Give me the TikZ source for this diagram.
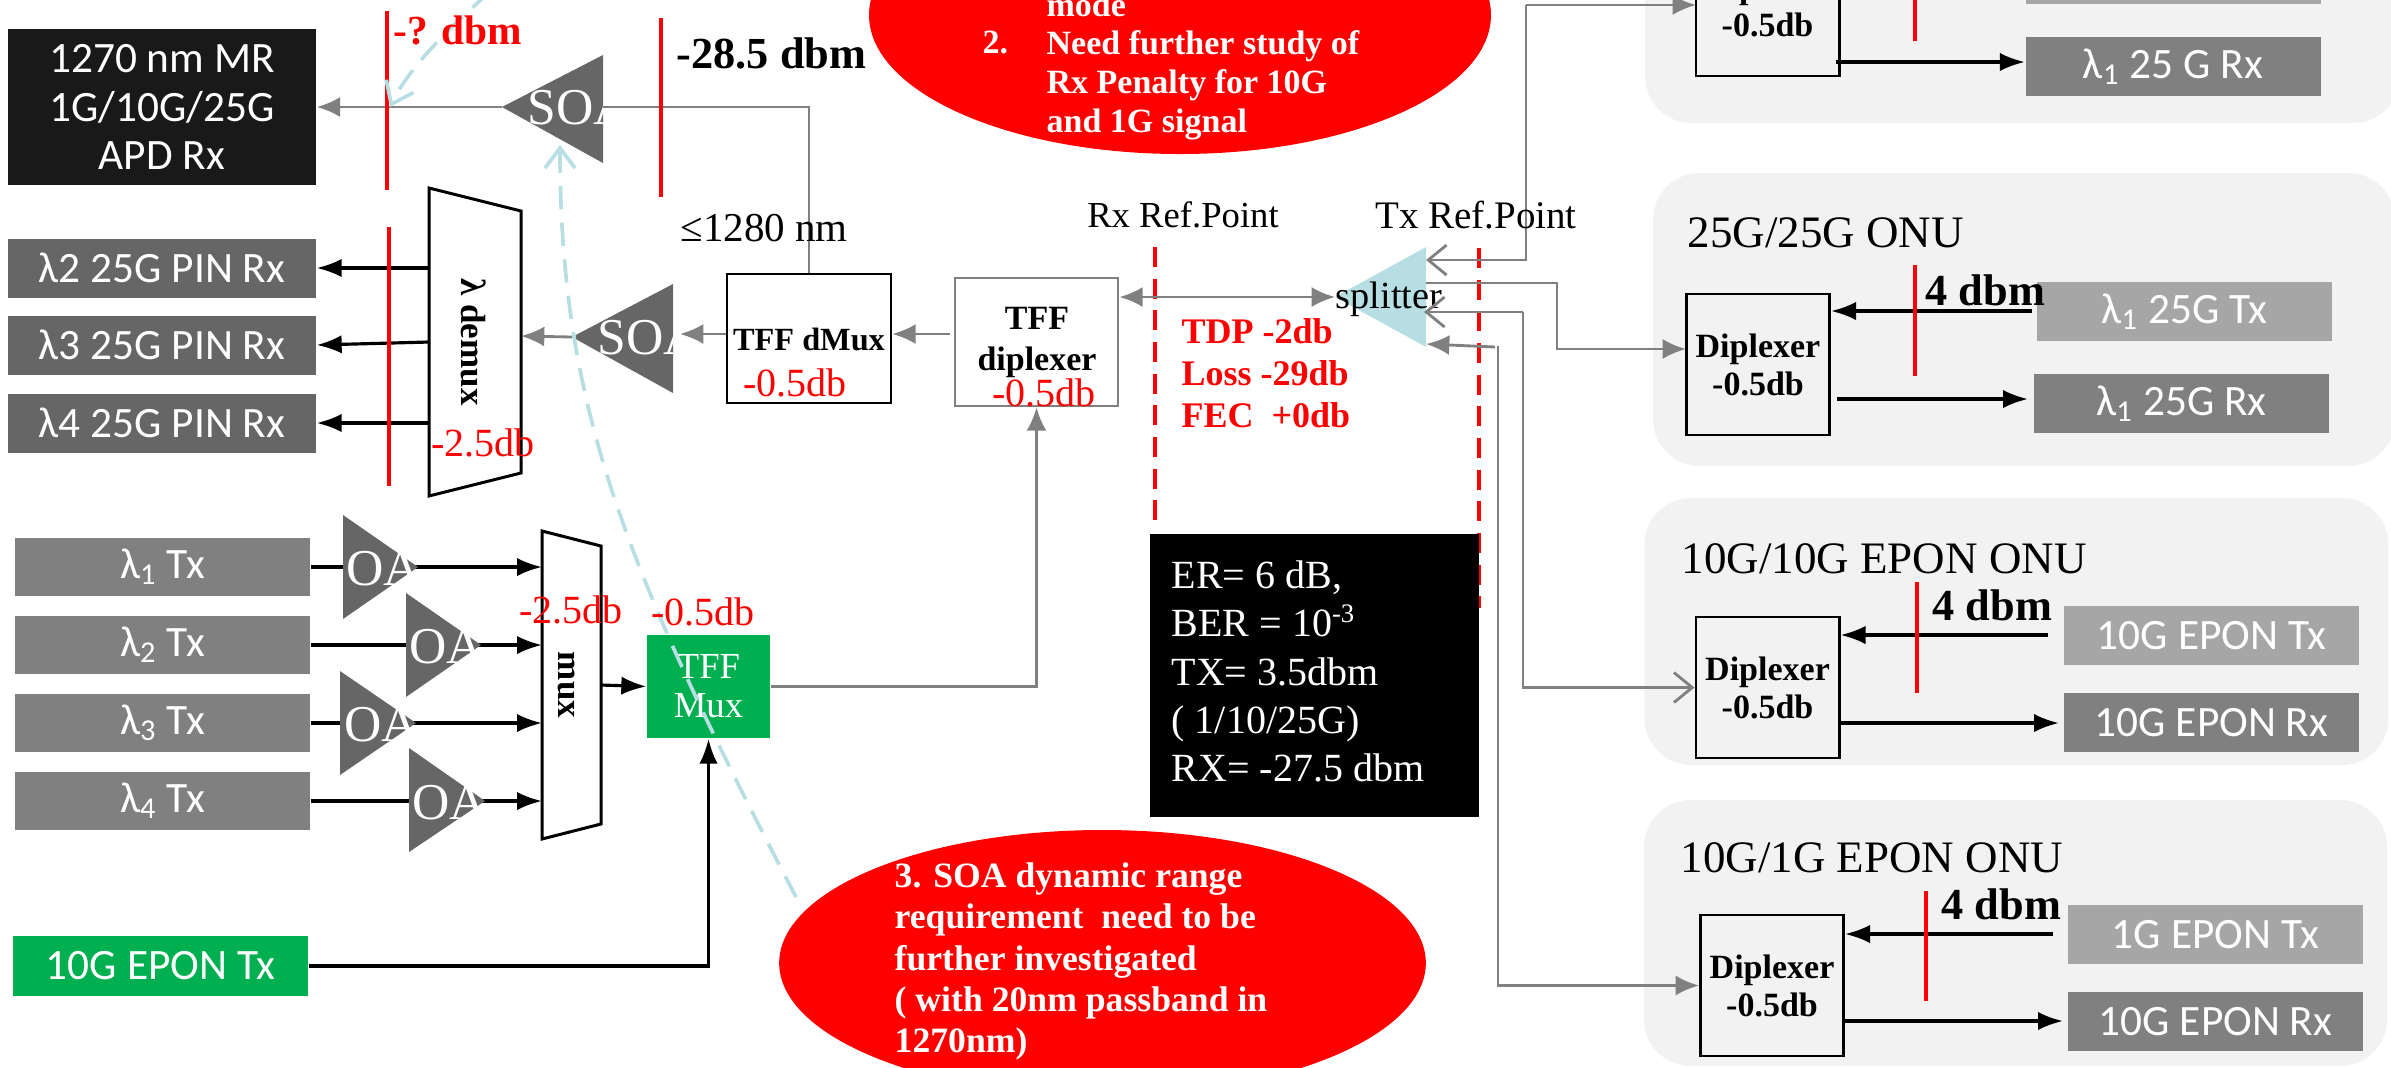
\documentclass[tikz,border=0pt]{standalone}
\usepackage{fontspec}
\setmainfont{Liberation Serif}
\newfontfamily\boxfont{Carlito}
\usepackage{xcolor}
\usetikzlibrary{arrows.meta, shapes.geometric}
\definecolor{ampgray}{HTML}{666666}
\definecolor{txgray}{HTML}{A6A6A6}
\definecolor{rxgray}{HTML}{808080}
\definecolor{panelgray}{HTML}{F2F2F2}
\definecolor{oltgreen}{HTML}{00B050}
\definecolor{splitblue}{HTML}{B7DFE3}
\tikzset{
  sigline/.style={line width=0.95pt, -{Latex[length=7.5pt,width=5.5pt]}},
  plainline/.style={line width=0.95pt},
  fibre/.style={line width=0.85pt, rxgray},
  fibrearrow/.style={fibre, -{Latex[length=7pt,width=6pt]}},
  fibreopen/.style={fibre, -{Straight Barb[length=5.5pt,width=9pt]}},
  marker/.style={red, line width=1.2pt},
  refline/.style={red, line width=1.2pt, dash pattern=on 6pt off 3.5pt},
  bluedash/.style={splitblue, line width=1.1pt, dash pattern=on 7pt off 4pt},
  lbox/.style={inner sep=0pt, text=white, font=\boxfont\fontsize{13}{14.5}\selectfont, align=center},
  onubox/.style={lbox, minimum width=88.5pt, minimum height=17.7pt},
  rxbox/.style={lbox, fill=ampgray, minimum width=92.4pt, minimum height=17.7pt},
  txbox/.style={lbox, fill=rxgray, minimum width=88.5pt, minimum height=17.4pt},
  panel/.style={fill=panelgray, rounded corners=14pt, inner sep=0pt},
  dipbox/.style={draw=black, line width=0.8pt, inner sep=0pt, align=center, font=\fontsize{10.2}{11.4}\selectfont\bfseries, minimum width=43pt, minimum height=42.3pt},
  ampname/.style={text=white, font=\fontsize{15.5}{16}\selectfont, inner sep=0pt},
  lossred/.style={red, font=\fontsize{12}{13}\selectfont, inner sep=0pt},
  powerlab/.style={font=\fontsize{13.3}{14}\selectfont\bfseries, inner sep=0pt},
  onutitle/.style={anchor=west, inner sep=0pt, font=\fontsize{13.5}{15}\selectfont},
  notetext/.style={anchor=north west, text=white, inner sep=0pt, align=left, font=\fontsize{10.7}{12.4}\selectfont\bfseries},
}
\begin{document}
\begin{tikzpicture}[x=0.3pt, y=-0.3pt]
\useasboundingbox (0,0) rectangle (2391,1067);
% ONU panels
\node[panel, minimum width=226.5pt, minimum height=60pt] (panelA) at (2022.5,23) {};
\node[panel, minimum width=222.6pt, minimum height=87.9pt] (panelB) at (2024,319.5) {};
\node[panel, minimum width=223.2pt, minimum height=80.1pt] (panelC) at (2016.5,631.5) {};
\node[panel, minimum width=222.9pt, minimum height=79.8pt] (panelD) at (2015.5,933) {};
% OLT receive side
\node[lbox, fill=black!90, minimum width=92.4pt, minimum height=46.8pt] (mrRx) at (162,107) {1270 nm MR\\1G/10G/25G\\APD Rx};
\node[rxbox] (pinTwo) at (162,268) {λ2 25G PIN Rx};
\node[rxbox] (pinThree) at (162,345) {λ3 25G PIN Rx};
\node[rxbox] (pinFour) at (162,423) {λ4 25G PIN Rx};
\fill[ampgray] (502,107) coordinate (soaTopOut) -- (603,55) -- (603,163) -- cycle;
\coordinate (soaTopIn) at (603,107);
\fill[ampgray] (572,337) coordinate (soaLowOut) -- (673,284) -- (673,393) -- cycle;
\coordinate (soaLowIn) at (680,334);
\node[ampname, anchor=west] (soaTopText) at (527,108) {SOA};
\node[ampname, anchor=west] (soaLowText) at (597,338) {SOA};
\draw[line width=0.9pt, fill=white] (429,188) -- (521,211) -- (521,473) -- (429,496) -- cycle;
\coordinate (demuxIn) at (521,336);
\coordinate (demuxA) at (429,268);
\coordinate (demuxB) at (429,342);
\coordinate (demuxC) at (429,423);
\node[rotate=-90, inner sep=0pt, font=\fontsize{10.5}{12}\selectfont\bfseries] (demuxText) at (474,342) {λ demux};
\node[draw=black, line width=0.8pt, inner sep=0pt, minimum width=49.2pt, minimum height=38.7pt] (dmux) at (809,338.5) {};
\node[inner sep=0pt, font=\fontsize{9.7}{11}\selectfont\bfseries] (dmuxText) at (809,339) {TFF dMux};
\node[draw=rxgray, line width=0.8pt, inner sep=0pt, minimum width=48.9pt, minimum height=38.4pt] (diplexer) at (1036.5,342) {};
\node[inner sep=0pt, align=center, font=\fontsize{10.2}{12.3}\selectfont\bfseries] (diplexerText) at (1037,342) {TFF\\diplexer};
\draw[fibrearrow] (soaTopOut) -- (mrRx.east);
\draw[fibre] (dmux.north) |- (soaTopIn);
\draw[fibrearrow] (soaLowOut) -- (demuxIn);
\draw[fibrearrow] (dmux.west |- soaLowIn) -- (soaLowIn);
\draw[fibrearrow] (950,334) coordinate (diplexerOut) -- (dmux.east |- diplexerOut);
\draw[sigline] (demuxA) -- (pinTwo.east);
\draw[sigline] (demuxB) -- (pinThree.east);
\draw[sigline] (demuxC) -- (pinFour.east);
% OLT transmit side
\node[txbox] (txOne) at (162.5,567) {λ\textsubscript{1} Tx};
\node[txbox] (txTwo) at (162.5,645) {λ\textsubscript{2} Tx};
\node[txbox] (txThree) at (162.5,723) {λ\textsubscript{3} Tx};
\node[txbox] (txFour) at (162.5,801) {λ\textsubscript{4} Tx};
\node[txbox, fill=oltgreen, minimum height=18pt] (eponTx) at (160.5,966) {10G EPON Tx};
\draw[line width=0.9pt, fill=white] (542,531) -- (601,546) -- (601,824) -- (542,839) -- cycle;
\coordinate (muxA) at (542,567);
\coordinate (muxB) at (542,645);
\coordinate (muxC) at (542,723);
\coordinate (muxD) at (542,801);
\coordinate (muxOut) at (601,685);
\node[rotate=-90, inner sep=0pt, font=\fontsize{10.5}{12}\selectfont\bfseries] (muxText) at (567,685) {mux};
\node[fill=oltgreen, inner sep=0pt, text=white, align=center, font=\fontsize{11}{11.7}\selectfont, minimum width=36.9pt, minimum height=30.9pt] (tffMux) at (708.5,686.5) {TFF\\Mux};
\draw[plainline] (txOne.east) -- (418,567);
\draw[plainline] (txTwo.east) -- (481,645);
\draw[plainline] (txThree.east) -- (416,723);
\draw[plainline] (txFour.east) -- (485,801);
\draw[sigline] (418,567) -- (muxA);
\draw[sigline] (481,645) -- (muxB);
\draw[sigline] (416,723) -- (muxC);
\draw[sigline] (485,801) -- (muxD);
\draw[sigline] (muxOut) -- (tffMux.west);
\fill[ampgray] (418,567) -- (343,515) -- (343,619) -- cycle;
\fill[ampgray] (481,645) -- (406,593) -- (406,697) -- cycle;
\fill[ampgray] (416,723) -- (340,671) -- (340,775) -- cycle;
\fill[ampgray] (485,801) -- (409,748) -- (409,852) -- cycle;
\node[ampname, anchor=west] (oaOne) at (346,569) {OA};
\node[ampname, anchor=west] (oaTwo) at (409,647) {OA};
\node[ampname, anchor=west] (oaThree) at (344,725) {OA};
\node[ampname, anchor=west] (oaFour) at (412,803) {OA};
\draw[sigline] (eponTx.east) -| (tffMux.south);
\draw[fibrearrow] (tffMux.east) -| (diplexer.south);
% reference points, drawn under the black box
\draw[refline] (1155,247) -- (1155,525);
\draw[refline] (1478.5,248) -- (1478.5,608);
% splitter and its fibres
\fill[splitblue] (1335,297) coordinate (splitIn) -- (1426,247) -- (1426,347) -- cycle;
\node[inner sep=0pt, font=\fontsize{11.5}{13}\selectfont] (splitText) at (1389,299) {splitter};
\draw[fibrearrow, {Latex[length=7pt,width=6pt]}-{Latex[length=7pt,width=6pt]}] (diplexer.east |- splitIn) -- (splitIn);
% top ONU
\node[dipbox] (dipA) at (1767.5,5.5) {Diplexer\\-0.5db};
\node[onubox, fill=txgray] (txA) at (2173,-26) {};
\node[onubox, fill=rxgray] (rxA) at (2173,66.5) {λ\textsubscript{1} 25 G Rx};
\draw[sigline] (1836,62) coordinate (dipAOut) -- (rxA.west |- dipAOut);
% 25G/25G ONU
\node[onutitle] (titleB) at (1687,233) {25G/25G ONU};
\node[dipbox] (dipB) at (1758,364.5) {Diplexer\\-0.5db};
\node[onubox, fill=txgray] (txB) at (2184.5,311.5) {λ\textsubscript{1} 25G Tx};
\node[onubox, fill=rxgray] (rxB) at (2181.5,403.5) {λ\textsubscript{1} 25G Rx};
\draw[sigline] (2032,311) coordinate (txBOut) -- (dipB.east |- txBOut);
\draw[sigline] (1837,399) coordinate (dipBOut) -- (2028,399);
% 10G/10G ONU
\node[onutitle] (titleC) at (1681,559) {10G/10G EPON ONU};
\node[dipbox] (dipC) at (1767.5,687.5) {Diplexer\\-0.5db};
\node[onubox, fill=txgray] (txC) at (2211.5,635.5) {10G EPON Tx};
\node[onubox, fill=rxgray] (rxC) at (2211.5,722.5) {10G EPON Rx};
\draw[sigline] (2048,635) coordinate (txCOut) -- (dipC.east |- txCOut);
\draw[sigline] (1838,723) coordinate (dipCOut) -- (2059,723);
% 10G/1G ONU
\node[onutitle] (titleD) at (1680,858) {10G/1G EPON ONU};
\node[dipbox] (dipD) at (1772,985.5) {Diplexer\\-0.5db};
\node[onubox, fill=txgray] (txD) at (2215.5,934.5) {1G EPON Tx};
\node[onubox, fill=rxgray] (rxD) at (2215.5,1021.5) {10G EPON Rx};
\draw[sigline] (2053,934) coordinate (txDOut) -- (dipD.east |- txDOut);
\draw[sigline] (1842,1021) coordinate (dipDOut) -- (2063,1021);
% splitter to ONU fibres
\coordinate (splitA) at (1426,260);
\coordinate (splitB) at (1426,283);
\coordinate (splitC) at (1424,312);
\coordinate (splitD) at (1426,344);
\coordinate (dipAIn) at (1696,5);
\coordinate (dipBIn) at (1686,349);
\draw[fibrearrow] (1526,5) coordinate (cornerA) -- (dipAIn);
\draw[fibreopen] (cornerA) |- (splitA);
\draw[fibrearrow] (splitB) -- (1557,283) |- (dipBIn);
\draw[fibreopen] (1523,312) coordinate (cornerC) -- (splitC);
\draw[fibreopen] (cornerC) |- (dipC.west);
\draw[fibrearrow] (1495,347) coordinate (cornerD) -- (splitD);
\draw[fibrearrow] (1498,346) |- (dipD.west);
% level markers
\draw[marker] (387,11) -- (387,190);
\draw[marker] (661,18) -- (661,197);
\draw[marker] (389,227) -- (389,486);
\draw[marker] (1915,-20) -- (1915,41);
\draw[marker] (1915,265) -- (1915,376);
\draw[marker] (1917,582) -- (1917,693);
\draw[marker] (1926,891) -- (1926,1001);
% SOA hints
\draw[bluedash, -{Straight Barb[length=6pt,width=9pt]}] (490,-8) .. controls (440,35) and (405,75) .. (390,107);
\draw[bluedash, -{Straight Barb[length=6pt,width=9pt]}] (796,897) .. controls (620,560) and (560,400) .. (560,145);
% labels
\node[powerlab, text=red, anchor=west, font=\fontsize{12.4}{14}\selectfont\bfseries] (levelQ) at (393,30) {-? dbm};
\node[powerlab, anchor=west] (levelRx) at (676,53) {-28.5 dbm};
\node[inner sep=0pt, anchor=west, font=\fontsize{12.3}{14}\selectfont] (cutoff) at (680,228) {≤1280 nm};
\node[lossred] (lossDemux) at (483,443) {-2.5db};
\node[lossred] (lossDmux) at (795,383) {-0.5db};
\node[lossred] (lossDiplexer) at (1044,393) {-0.5db};
\node[lossred] (lossMux) at (571,610) {-2.5db};
\node[lossred] (lossTff) at (703,612) {-0.5db};
\node[inner sep=0pt, font=\fontsize{11}{14}\selectfont] (rxRef) at (1183,215) {Rx Ref.Point};
\node[inner sep=0pt, font=\fontsize{11.7}{14}\selectfont] (txRef) at (1476,215) {Tx Ref.Point};
\node[inner sep=0pt, anchor=north west, align=left, text=red, font=\fontsize{10.8}{12.6}\selectfont\bfseries] (budget) at (1181,318) {TDP -2db\\Loss -29db\\FEC\ \ +0db};
\node[powerlab, anchor=west] (levelB) at (1925,290) {4 dbm};
\node[powerlab, anchor=west] (levelC) at (1932,605) {4 dbm};
\node[powerlab, anchor=west] (levelD) at (1941,904) {4 dbm};
% black summary box
\node[fill=black, minimum width=98.7pt, minimum height=84.9pt, inner sep=0pt] (summary) at (1314.5,675.5) {};
\node[anchor=north west, inner sep=0pt, align=left, text=white, font=\fontsize{12}{14.5}\selectfont] (summaryText) at (1171,560) {ER= 6 dB,\\BER = 10\textsuperscript{-3}\\TX= 3.5dbm\\( 1/10/25G)\\RX= -27.5 dbm};
% red notes
\node[ellipse, fill=red, inner sep=0pt, minimum width=186.6pt, minimum height=83.4pt] (noteTop) at (1180,15) {};
\node[inner sep=0pt, anchor=north west, text=white, font=\fontsize{10.2}{11.6}\selectfont\bfseries] (noteTwoNum) at (982,30) {2.};
\node[notetext, font=\fontsize{10.2}{11.6}\selectfont\bfseries] (noteTopText) at (1046,-8) {mode\\Need further study of\\Rx Penalty for 10G\\and 1G signal};
\node[ellipse, fill=red, inner sep=0pt, minimum width=194pt, minimum height=79.8pt] (noteLow) at (1102.5,963) {};
\node[notetext] (noteLowText) at (894,862) {3. SOA dynamic range\\requirement\ \ need to be\\further investigated\\( with 20nm passband in\\1270nm)};
\end{tikzpicture}
\end{document}
